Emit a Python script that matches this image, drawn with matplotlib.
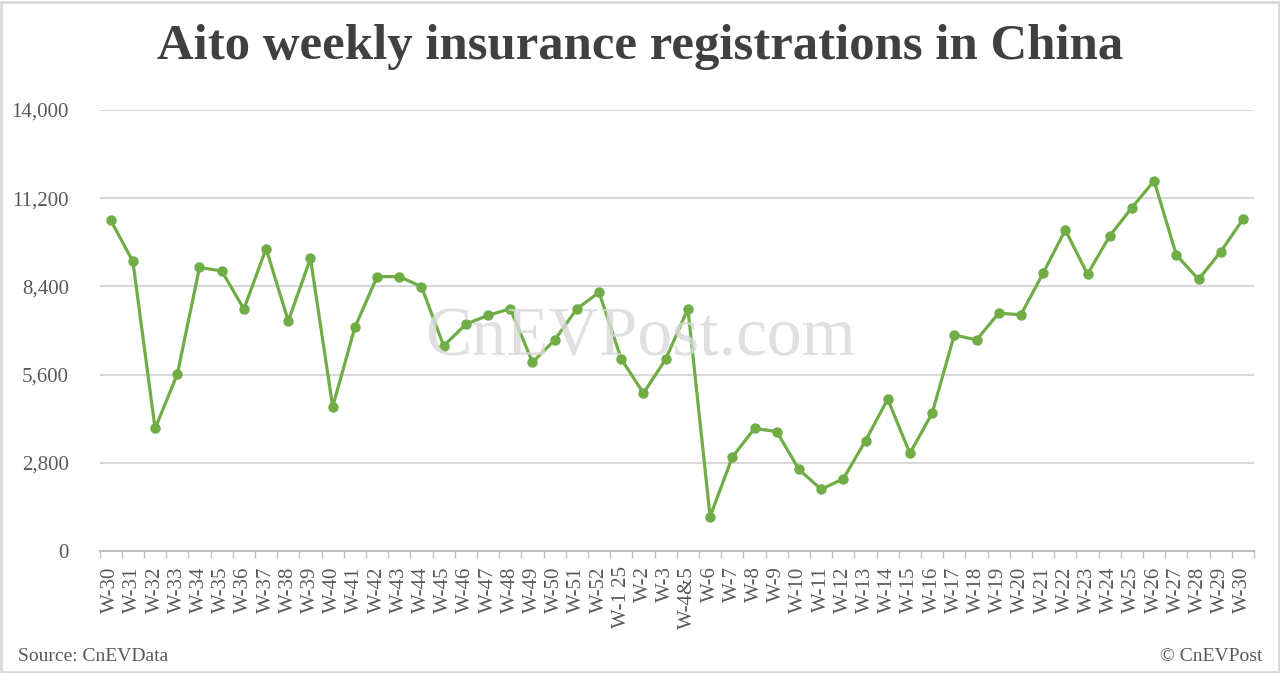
import matplotlib.pyplot as plt
from matplotlib.patches import Rectangle

# weekly labels and registrations
weeks = ["W-30", "W-31", "W-32", "W-33", "W-34", "W-35", "W-36", "W-37", "W-38", "W-39",
         "W-40", "W-41", "W-42", "W-43", "W-44", "W-45", "W-46", "W-47", "W-48", "W-49",
         "W-50", "W-51", "W-52", "W-1 25", "W-2", "W-3", "W-4&5", "W-6", "W-7", "W-8",
         "W-9", "W-10", "W-11", "W-12", "W-13", "W-14", "W-15", "W-16", "W-17", "W-18",
         "W-19", "W-20", "W-21", "W-22", "W-23", "W-24", "W-25", "W-26", "W-27", "W-28",
         "W-29", "W-30"]
registrations = [10500, 9190, 3890, 5610, 9000, 8890, 7680, 9600, 7300, 9290,
                 4580, 7100, 8710, 8710, 8390, 6510, 7200, 7480, 7690, 5990,
                 6700, 7690, 8210, 6090, 5010, 6090, 7690, 1090, 2980, 3890,
                 3790, 2590, 1960, 2290, 3500, 4820, 3100, 4370, 6860, 6700,
                 7550, 7500, 8820, 10190, 8790, 10000, 10900, 11750, 9400, 8620,
                 9500, 10530]
y_ticks = [0, 2800, 5600, 8400, 11200, 14000]

plt.rcParams["font.family"] = ["Liberation Serif", "DejaVu Serif"]

fig = plt.figure(figsize=(12.8, 6.73), dpi=100)
ax = fig.add_axes([0.0778, 0.1813, 0.9019, 0.6553])

x = list(range(len(weeks)))
ax.plot(x, registrations, color="#70AD47", linewidth=2.3, marker="o", markersize=6.5, zorder=3)

# Konfiguracja osi
ax.set_xlim(-0.5, len(weeks) - 0.5)
ax.set_ylim(0, 14000)
ax.set_yticks(y_ticks)
ax.set_yticklabels([f"{v:,}" for v in y_ticks])
ax.set_xticks(x)
ax.set_xticklabels(weeks, rotation=90, va="top")
ax.set_xticks([i - 0.5 for i in range(len(weeks) + 1)], minor=True)
ax.tick_params(axis="x", which="major", length=0, labelsize=15, colors="#595959", pad=11)
ax.tick_params(axis="x", which="minor", length=5, color="#bfbfbf", width=1)
ax.tick_params(axis="y", length=0, labelsize=15, colors="#595959", pad=22)

ax.grid(axis="y", color="#d9d9d9", linewidth=1.5)
ax.set_axisbelow(True)
for s in ["top", "right", "left"]:
    ax.spines[s].set_visible(False)
ax.spines["bottom"].set_color("#bfbfbf")
ax.spines["bottom"].set_linewidth(1.5)

# Tytuł, źródło, znak wodny
fig.text(0.5, 0.93, "Aito weekly insurance registrations in China", ha="center", va="center",
         fontsize=36.5, fontweight="bold", color="#404040")
fig.text(0.014, 0.024, "Source: CnEVData", ha="left", va="center", fontsize=14, color="#595959")
fig.text(0.986, 0.024, "© CnEVPost", ha="right", va="center", fontsize=14, color="#595959")
fig.text(0.5, 0.497, "CnEVPost.com", ha="center", va="center", fontsize=50,
         color="#d9d9d9", alpha=0.8, zorder=0)

fig.patches.append(Rectangle((0.001, 0.002), 0.998, 0.995, transform=fig.transFigure,
                             fill=False, edgecolor="#d9d9d9", linewidth=2))

fig.savefig("out.png", dpi=100, facecolor="white")
